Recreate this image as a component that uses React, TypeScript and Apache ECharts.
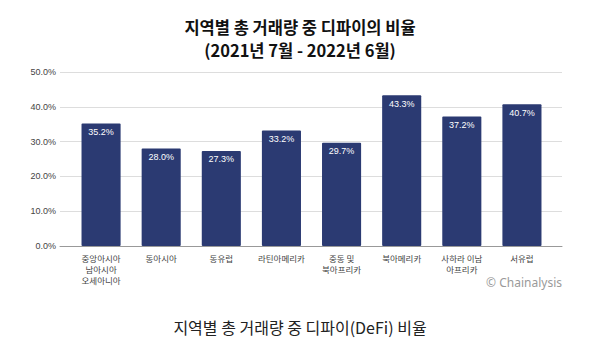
import React, { useEffect, useRef } from "react";
import * as echarts from "echarts";

const categories = [
  "중앙아시아\n남아시아\n오세아니아",
  "동아시아",
  "동유럽",
  "라틴아메리카",
  "중동 및\n북아프리카",
  "북아메리카",
  "사하라 이남\n아프리카",
  "서유럽",
];
const shares = [35.2, 28.0, 27.3, 33.2, 29.7, 43.3, 37.2, 40.7];
const yTicks = { min: 0, max: 50, interval: 10 };
const titleLines = ["지역별 총 거래량 중 디파이의 비율", "(2021년 7월 - 2022년 6월)"];
const caption = "지역별 총 거래량 중 디파이(DeFi) 비율";
const credit = "© Chainalysis";

const FONT = "'Noto Sans CJK KR', 'Noto Sans', sans-serif";
const LATIN = "Arial, 'Liberation Sans', sans-serif";

export default function App() {
  const ref = useRef<HTMLDivElement>(null);
  useEffect(() => {
    if (!ref.current) return;
    const chart = echarts.init(ref.current, undefined, { renderer: "svg" });
    chart.setOption({
      animation: false,
      backgroundColor: "#ffffff",
      textStyle: { fontFamily: FONT },
      title: [
        {
          text: titleLines[0],
          left: "center",
          top: 16,
          padding: 0,
          textStyle: {
            fontFamily: FONT,
            fontSize: 16.5,
            fontWeight: "bold",
            color: "#111",
            lineHeight: 22,
          },
        },
        {
          text: titleLines[1],
          left: "center",
          top: 39,
          padding: 0,
          textStyle: {
            fontFamily: FONT,
            fontSize: 16.5,
            fontWeight: "bold",
            color: "#111",
            lineHeight: 22,
          },
        },
      ],
      grid: [
        { left: 71, right: 48, top: 72, bottom: 112 },
        { left: 60, right: 38, top: 72, bottom: 112 },
      ],
      xAxis: [
        {
          type: "category",
          gridIndex: 0,
          data: categories,
          axisTick: { show: false },
          axisLine: { show: false },
          axisLabel: {
            interval: 0,
            fontSize: 8.5,
            color: "#444",
            lineHeight: 11,
            margin: 6,
            fontFamily: FONT,
          },
        },
        {
          type: "category",
          gridIndex: 1,
          data: [""],
          axisTick: { show: false },
          axisLabel: { show: false },
          axisLine: { lineStyle: { color: "#999", width: 1 } },
        },
      ],
      yAxis: [
        {
          type: "value",
          gridIndex: 0,
          ...yTicks,
          axisLine: { show: false },
          axisTick: { show: false },
          splitLine: { show: false },
          axisLabel: { show: false },
        },
        {
          type: "value",
          gridIndex: 1,
          ...yTicks,
          axisLine: { show: false },
          axisTick: { show: false },
          splitLine: { lineStyle: { color: "#dddddd", width: 1 } },
          axisLabel: {
            fontSize: 9,
            color: "#444",
            margin: 4,
            fontFamily: LATIN,
            formatter: (v: number) => v.toFixed(1) + "%",
          },
        },
      ],
      series: [
        {
          type: "bar",
          xAxisIndex: 0,
          yAxisIndex: 0,
          z: 3,
          data: shares,
          barWidth: "65%",
          itemStyle: { color: "#2b3a72", borderRadius: 1 },
          label: {
            show: true,
            position: "insideTop",
            distance: 4,
            color: "#ffffff",
            fontSize: 9,
            fontWeight: "normal",
            fontFamily: LATIN,
            formatter: (p: any) => p.value.toFixed(1) + "%",
          },
        },
      ],
      graphic: [
        {
          type: "text",
          right: 38,
          top: 276,
          style: {
            text: credit,
            fontSize: 12,
            fill: "#9a9a9a",
            fontFamily: "'Noto Sans', sans-serif",
          },
        },
        {
          type: "text",
          left: "center",
          top: 319,
          style: {
            text: caption,
            fontSize: 16,
            fill: "#222",
            fontFamily: FONT,
          },
        },
      ],
    });
    return () => chart.dispose();
  }, []);
  return (
    <div
      ref={ref}
      style={{ position: "fixed", left: 0, top: 0, width: 600, height: 358 }}
    />
  );
}
